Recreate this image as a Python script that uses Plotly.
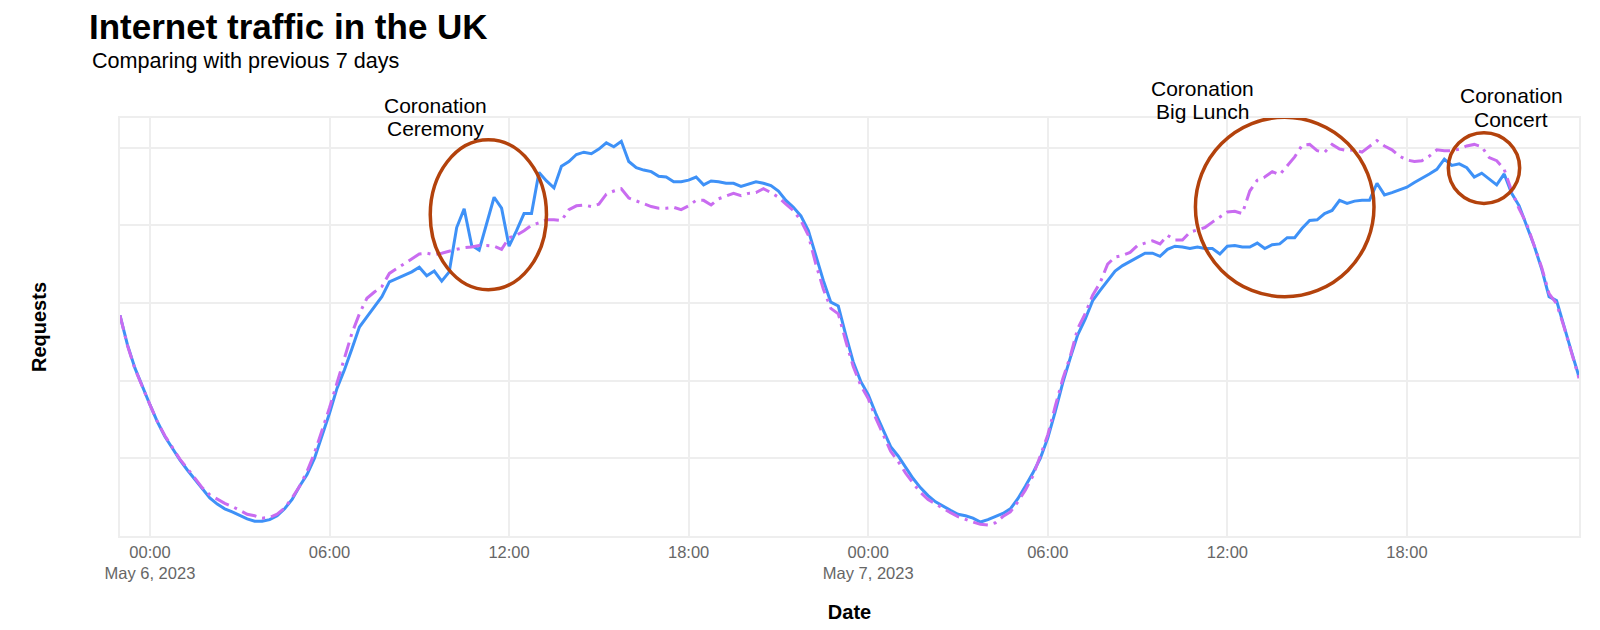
import pandas as pd
import plotly.graph_objects as go

# ---- data (15-minute samples, 2023-05-05 23:00 .. 2023-05-07 23:45) ----
start_time = "2023-05-05 23:00"
n_points = 196
times = pd.date_range(start_time, periods=n_points, freq="15min")

# Relative request volume, current period
current = [
    2.84, 2.46, 2.16, 1.92, 1.69, 1.47, 1.28, 1.13, 0.98, 0.85, 0.73, 0.60,
    0.49, 0.41, 0.35, 0.31, 0.26, 0.22, 0.19, 0.19, 0.21, 0.26, 0.35, 0.47,
    0.64, 0.79, 1.00, 1.28, 1.58, 1.90, 2.14, 2.41, 2.69, 2.82, 2.95, 3.08,
    3.27, 3.31, 3.35, 3.40, 3.46, 3.35, 3.41, 3.28, 3.40, 3.97, 4.21, 3.74,
    3.68, 4.02, 4.36, 4.22, 3.73, 3.93, 4.15, 4.15, 4.68, 4.57, 4.48, 4.76,
    4.82, 4.91, 4.94, 4.92, 4.98, 5.06, 5.01, 5.08, 4.82, 4.74, 4.71, 4.69,
    4.63, 4.62, 4.56, 4.56, 4.58, 4.62, 4.52, 4.57, 4.56, 4.54, 4.54, 4.50,
    4.53, 4.56, 4.54, 4.51, 4.44, 4.32, 4.23, 4.12, 3.93, 3.61, 3.29, 3.01,
    2.96, 2.59, 2.24, 1.99, 1.82, 1.58, 1.36, 1.15, 1.03, 0.88, 0.74, 0.62,
    0.52, 0.44, 0.38, 0.33, 0.28, 0.26, 0.23, 0.18, 0.21, 0.25, 0.29, 0.35,
    0.48, 0.64, 0.81, 1.00, 1.26, 1.60, 1.97, 2.29, 2.59, 2.79, 3.03, 3.16,
    3.29, 3.41, 3.48, 3.53, 3.58, 3.64, 3.64, 3.60, 3.69, 3.73, 3.72, 3.70,
    3.72, 3.70, 3.70, 3.63, 3.73, 3.74, 3.72, 3.72, 3.77, 3.70, 3.75, 3.76,
    3.84, 3.84, 3.96, 4.06, 4.07, 4.15, 4.19, 4.32, 4.28, 4.31, 4.32, 4.32,
    4.54, 4.39, 4.42, 4.45, 4.49, 4.55, 4.60, 4.66, 4.72, 4.85, 4.77, 4.79,
    4.74, 4.62, 4.67, 4.59, 4.52, 4.66, 4.41, 4.25, 4.00, 3.74, 3.44, 3.08,
    3.03, 2.69, 2.37, 2.05,
]

# Relative request volume, same time previous 7 days
previous = [
    2.84, 2.45, 2.15, 1.91, 1.69, 1.47, 1.29, 1.14, 0.99, 0.87, 0.75, 0.62,
    0.53, 0.47, 0.42, 0.38, 0.33, 0.28, 0.26, 0.23, 0.24, 0.28, 0.36, 0.49,
    0.64, 0.83, 1.07, 1.35, 1.65, 1.97, 2.29, 2.61, 2.86, 3.06, 3.14, 3.21,
    3.38, 3.44, 3.50, 3.56, 3.63, 3.64, 3.62, 3.64, 3.67, 3.69, 3.71, 3.72,
    3.74, 3.74, 3.73, 3.69, 3.84, 3.87, 3.93, 4.00, 4.03, 4.07, 4.07, 4.06,
    4.20, 4.25, 4.26, 4.24, 4.27, 4.40, 4.44, 4.47, 4.35, 4.31, 4.27, 4.24,
    4.22, 4.22, 4.23, 4.20, 4.25, 4.32, 4.32, 4.26, 4.34, 4.37, 4.41, 4.38,
    4.41, 4.42, 4.47, 4.42, 4.36, 4.27, 4.19, 4.06, 3.87, 3.50, 3.18, 2.93,
    2.86, 2.51, 2.18, 1.94, 1.77, 1.52, 1.30, 1.09, 0.96, 0.81, 0.68, 0.56,
    0.47, 0.41, 0.35, 0.30, 0.25, 0.21, 0.18, 0.15, 0.14, 0.17, 0.25, 0.31,
    0.44, 0.59, 0.77, 1.03, 1.30, 1.67, 2.02, 2.31, 2.67, 2.86, 3.10, 3.26,
    3.50, 3.59, 3.61, 3.65, 3.74, 3.77, 3.80, 3.76, 3.87, 3.81, 3.81, 3.91,
    3.94, 3.97, 4.04, 4.11, 4.17, 4.18, 4.15, 4.44, 4.58, 4.62, 4.69, 4.65,
    4.77, 4.88, 5.03, 5.04, 4.96, 4.94, 5.04, 4.98, 4.96, 4.97, 4.94, 5.01,
    5.09, 5.02, 4.97, 4.89, 4.84, 4.82, 4.83, 4.89, 4.97, 4.96, 4.96, 4.98,
    5.02, 5.04, 5.01, 4.87, 4.83, 4.72, 4.44, 4.21, 4.02, 3.74, 3.46, 3.12,
    2.99, 2.69, 2.35, 2.03,
]

# Event annotations: label lines, circle extents (time, value)
events = [
    {"lines": ["Coronation", "Ceremony"],
     "t0": "2023-05-06 09:22", "t1": "2023-05-06 13:15", "v0": 3.17, "v1": 5.10},
    {"lines": ["Coronation", "Big Lunch"],
     "t0": "2023-05-07 10:56", "t1": "2023-05-07 16:54", "v0": 3.08, "v1": 5.39},
    {"lines": ["Coronation", "Concert"],
     "t0": "2023-05-07 19:23", "t1": "2023-05-07 21:46", "v0": 4.28, "v1": 5.19},
]
# label text centres in pixels (x, y of each line)
label_px = [
    [(435.5, 105.6), (435.5, 128.6)],
    [(1202.5, 88.1), (1202.5, 111.4)],
    [(1511.3, 95.8), (1511.3, 119.1)],
]

FONT = "Arial, 'Liberation Sans', Helvetica, sans-serif"
W, H = 1600, 630
ML, MR, MT, MB = 120, 21, 118, 94
PW, PH = W - ML - MR, H - MT - MB


def paper_x(px):
    return (px - ML) / PW


def paper_y(py):
    return (H - MB - py) / PH


fig = go.Figure()
fig.add_trace(go.Scatter(
    x=times, y=current, mode="lines", name="Current",
    line=dict(color="#3e91f7", width=3),
))
fig.add_trace(go.Scatter(
    x=times, y=previous, mode="lines", name="Previous 7 days",
    line=dict(color="#c96cf0", width=3, dash="longdashdot"),
))

for ev in events:
    fig.add_shape(type="circle", xref="x", yref="y",
                  x0=ev["t0"], x1=ev["t1"], y0=ev["v0"], y1=ev["v1"],
                  line=dict(color="#b3420c", width=3.5), layer="above")

for ev, pos in zip(events, label_px):
    for text, (px, py) in zip(ev["lines"], pos):
        fig.add_annotation(text=text, xref="paper", yref="paper",
                           x=paper_x(px), y=paper_y(py),
                           xanchor="center", yanchor="middle",
                           showarrow=False,
                           font=dict(family=FONT, size=21, color="black"))

fig.add_annotation(text="Comparing with previous 7 days", xref="paper", yref="paper",
                   x=paper_x(90.0), y=paper_y(61.0), xanchor="left", yanchor="middle",
                   showarrow=False, font=dict(family=FONT, size=21.6, color="black"))

fig.update_layout(
    width=W, height=H,
    margin=dict(l=ML, r=MR, t=MT, b=MB, autoexpand=False),
    paper_bgcolor="white", plot_bgcolor="white",
    showlegend=False,
    font=dict(family=FONT),
    title=dict(text="<b>Internet traffic in the UK</b>", xref="container", yref="container",
               x=89 / W, xanchor="left", y=1 - 27.2 / H, yanchor="middle",
               font=dict(family=FONT, size=35, color="black")),
)
fig.update_xaxes(
    range=[times[0], times[-1]],
    tick0="2023-05-06 00:00", dtick=6 * 3600 * 1000,
    showgrid=True, gridcolor="#eeeeee", gridwidth=1.5,
    showline=True, mirror=True, linecolor="#eeeeee", linewidth=1.5,
    zeroline=False, ticks="",
    tickfont=dict(family=FONT, size=16.5, color="#666666"),
    title=dict(text="<b>Date</b>", standoff=24,
               font=dict(family=FONT, size=20, color="black")),
    automargin=False,
)
fig.update_yaxes(
    range=[0, 5.38], tick0=0, dtick=1,
    showgrid=True, gridcolor="#eeeeee", gridwidth=1.5,
    showline=True, mirror=True, linecolor="#eeeeee", linewidth=1.5,
    zeroline=False, ticks="", showticklabels=False,
    title=dict(text="<b>Requests</b>", standoff=66,
               font=dict(family=FONT, size=20, color="black")),
    automargin=False,
)

fig.write_html("out.html", config={"displayModeBar": False},
               post_script="document.body.style.margin='0px';")
